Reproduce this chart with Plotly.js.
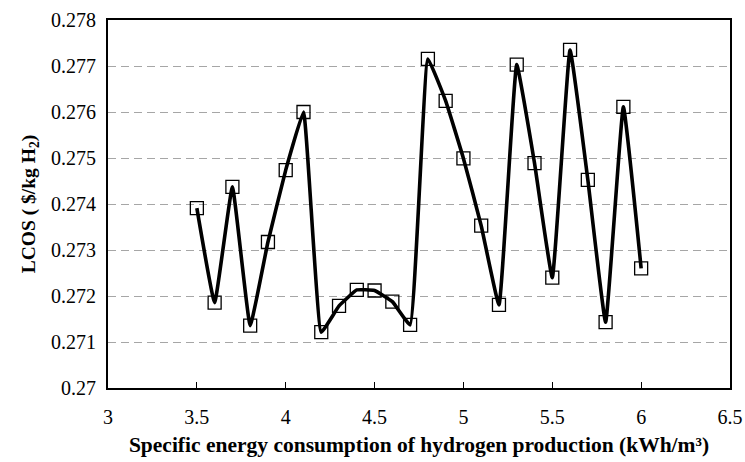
<!DOCTYPE html>
<html>
<head>
<meta charset="utf-8">
<script src="https://cdn.plot.ly/plotly-3.0.1.min.js"></script>
<style>html,body{margin:0;padding:0;background:#fff;}#chart{width:745px;height:462px;}</style>
</head>
<body>
<div id="chart"></div>
<script>
const sec = [3.5, 3.6, 3.7, 3.8, 3.9, 4.0, 4.1, 4.2, 4.3, 4.4, 4.5, 4.6, 4.7, 4.8, 4.9, 5.0, 5.1, 5.2, 5.3, 5.4, 5.5, 5.6, 5.7, 5.8, 5.9, 6.0];
const lcos = [0.27391, 0.271856, 0.274374, 0.271357, 0.273174, 0.274737, 0.276, 0.271213, 0.271784, 0.272132, 0.27212, 0.271878, 0.271372, 0.277153, 0.276241, 0.274991, 0.273528, 0.271806, 0.277031, 0.274889, 0.272399, 0.277349, 0.274526, 0.27143, 0.276111, 0.272602];
const xTicks = [3, 3.5, 4, 4.5, 5, 5.5, 6, 6.5];
const yTicks = [0.27, 0.271, 0.272, 0.273, 0.274, 0.275, 0.276, 0.277, 0.278];

const fontFam = 'Liberation Serif, Times New Roman, serif';

const trace = {
  x: sec,
  y: lcos,
  type: 'scatter',
  mode: 'lines+markers',
  line: {color: '#000', width: 3.6, shape: 'spline', smoothing: 0.3},
  marker: {symbol: 'square-open', size: 13, color: '#000', line: {color: '#000', width: 1.3}},
  showlegend: false
};

const layout = {
  width: 745,
  height: 462,
  margin: {l: 108, r: 15, t: 20, b: 74},
  paper_bgcolor: '#fff',
  plot_bgcolor: '#fff',
  font: {family: fontFam, color: '#000', size: 20},
  xaxis: {
    range: [3, 6.5],
    tickvals: xTicks,
    ticktext: xTicks.map(String),
    ticks: 'inside',
    ticklen: 6,
    tickwidth: 1.2,
    tickcolor: '#000',
    showgrid: false,
    zeroline: false,
    showline: true,
    linecolor: '#000',
    linewidth: 2,
    mirror: true,
    ticklabelstandoff: 10,
    tickfont: {family: fontFam, size: 20, color: '#000'},
    title: {text: 'Specific energy consumption of hydrogen production (kWh/m³)', font: {family: fontFam, size: 21.5, color: '#000', weight: 'bold'}, standoff: 10}
  },
  yaxis: {
    range: [0.27, 0.278],
    tickvals: yTicks,
    ticktext: yTicks.map(v => String(+v.toFixed(3))),
    ticks: '',
    showgrid: true,
    gridcolor: '#a6a6a6',
    gridwidth: 1,
    griddash: '8px,5px',
    zeroline: false,
    showline: true,
    linecolor: '#000',
    linewidth: 2,
    mirror: true,
    ticklabelstandoff: 6,
    tickfont: {family: fontFam, size: 20, color: '#000'},
    title: {text: 'LCOS ( $/kg H<sub>2</sub>)', font: {family: fontFam, size: 19.5, color: '#000', weight: 'bold'}, standoff: 10}
  }
};

Plotly.newPlot('chart', [trace], layout, {staticPlot: true, displayModeBar: false});
</script>
</body>
</html>
